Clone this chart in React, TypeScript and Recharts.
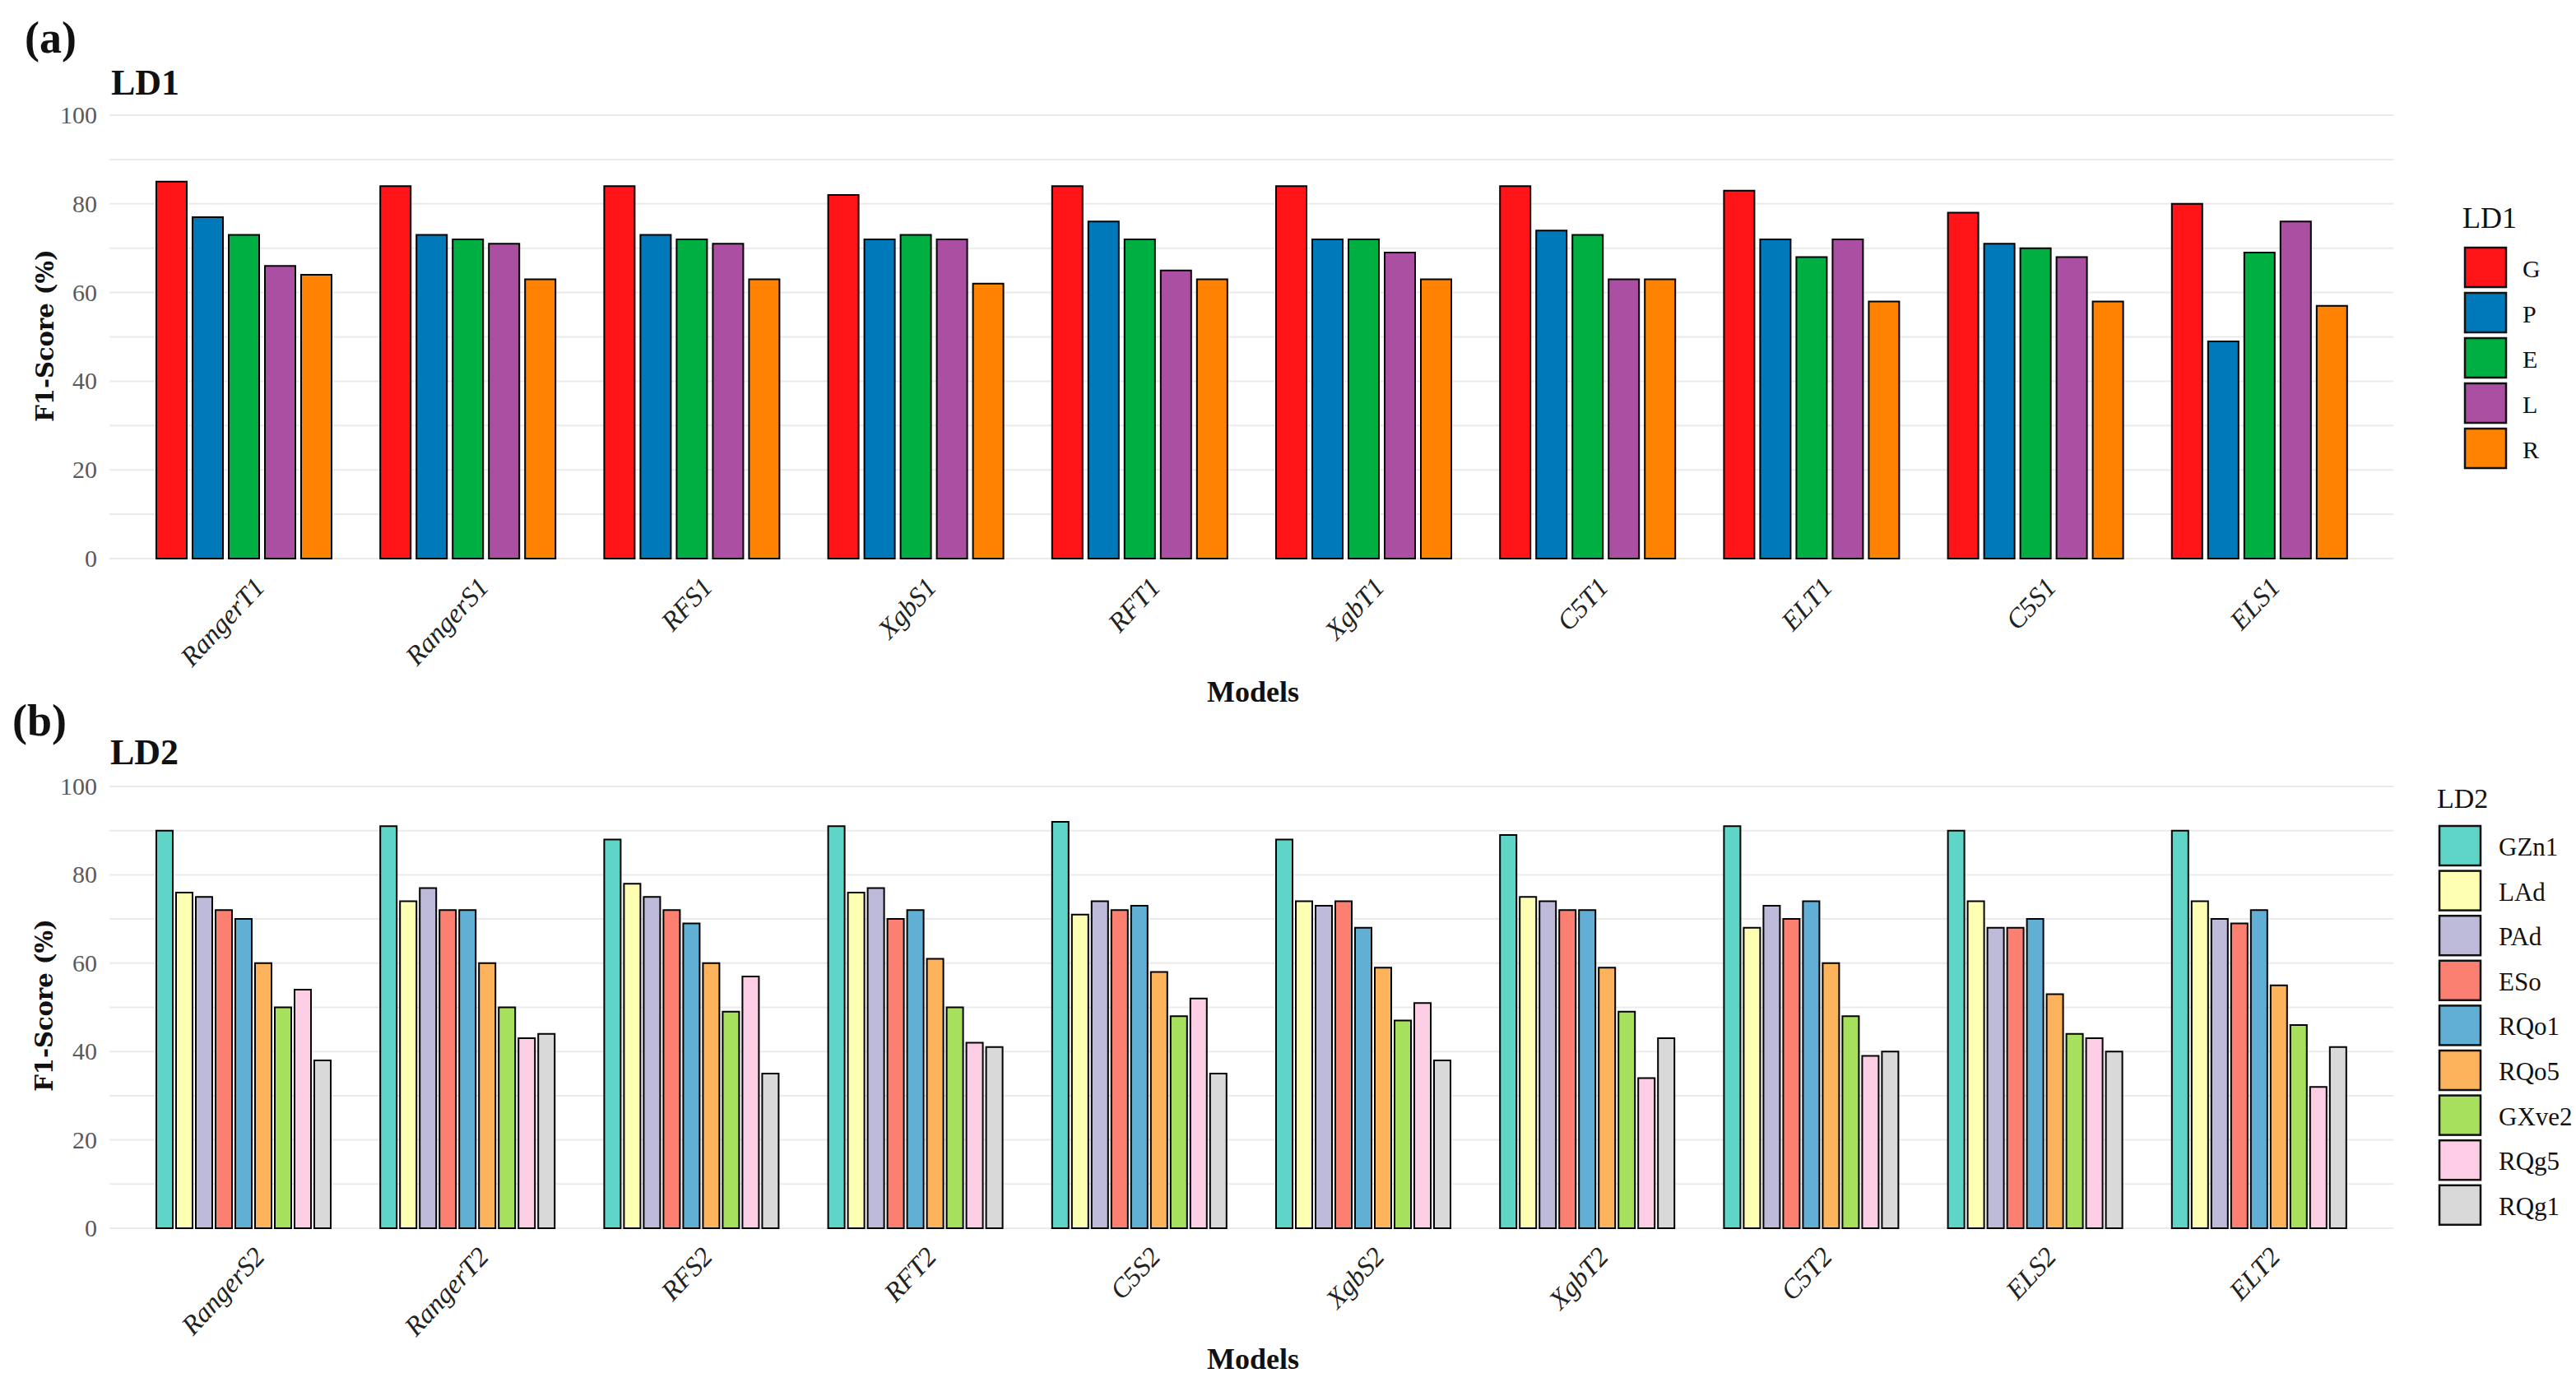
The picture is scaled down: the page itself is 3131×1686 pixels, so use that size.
import React from "react";
import { BarChart, Bar, XAxis, YAxis, CartesianGrid } from "recharts";

// LD1 panel
const LD1_MODELS = ["RangerT1", "RangerS1", "RFS1", "XgbS1", "RFT1", "XgbT1", "C5T1", "ELT1", "C5S1", "ELS1"];
const LD1_KEYS = ["G", "P", "E", "L", "R"];
const LD1_G = [85, 84, 84, 82, 84, 84, 84, 83, 78, 80];
const LD1_P = [77, 73, 73, 72, 76, 72, 74, 72, 71, 49];
const LD1_E = [73, 72, 72, 73, 72, 72, 73, 68, 70, 69];
const LD1_L = [66, 71, 71, 72, 65, 69, 63, 72, 68, 76];
const LD1_R = [64, 63, 63, 62, 63, 63, 63, 58, 58, 57];

// LD2 panel
const LD2_MODELS = ["RangerS2", "RangerT2", "RFS2", "RFT2", "C5S2", "XgbS2", "XgbT2", "C5T2", "ELS2", "ELT2"];
const LD2_KEYS = ["GZn1", "LAd", "PAd", "ESo", "RQo1", "RQo5", "GXve2", "RQg5", "RQg1"];
const LD2_GZN1 = [90, 91, 88, 91, 92, 88, 89, 91, 90, 90];
const LD2_LAD = [76, 74, 78, 76, 71, 74, 75, 68, 74, 74];
const LD2_PAD = [75, 77, 75, 77, 74, 73, 74, 73, 68, 70];
const LD2_ESO = [72, 72, 72, 70, 72, 74, 72, 70, 68, 69];
const LD2_RQO1 = [70, 72, 69, 72, 73, 68, 72, 74, 70, 72];
const LD2_RQO5 = [60, 60, 60, 61, 58, 59, 59, 60, 53, 55];
const LD2_GXVE2 = [50, 50, 49, 50, 48, 47, 49, 48, 44, 46];
const LD2_RQG5 = [54, 43, 57, 42, 52, 51, 34, 39, 43, 32];
const LD2_RQG1 = [38, 44, 35, 41, 35, 38, 43, 40, 40, 41];

// y axis
const GRID_VALUES = [0, 10, 20, 30, 40, 50, 60, 70, 80, 90, 100];
const Y_LABELS = [0, 20, 40, 60, 80, 100];

const LD1_COLORS = ["#FF1418", "#0079BA", "#00AF42", "#AB4FA3", "#FF8200"];
const LD2_COLORS = ["#5FD5C7", "#FFFFB3", "#BEBADA", "#FB8072", "#62AFD5", "#FDB25C", "#A6E05C", "#FDCDE6", "#D9D9D9"];

const SERIF = "'Liberation Serif', 'Times New Roman', serif";
const W = 3131;

function buildRows(models: string[], keys: string[], cols: number[][]) {
  return models.map((m, i) => {
    const row: any = { model: m };
    keys.forEach((k, j) => (row[k] = cols[j][i]));
    return row;
  });
}

const ld1Rows = buildRows(LD1_MODELS, LD1_KEYS, [LD1_G, LD1_P, LD1_E, LD1_L, LD1_R]);
const ld2Rows = buildRows(LD2_MODELS, LD2_KEYS, [
  LD2_GZN1, LD2_LAD, LD2_PAD, LD2_ESO, LD2_RQO1, LD2_RQO5, LD2_GXVE2, LD2_RQG5, LD2_RQG1,
]);

const ModelTick = ({ x, y, payload }: any) => (
  <g transform={`translate(${x + 10},${y + 20})`}>
    <text
      textAnchor="end"
      transform="rotate(-47)"
      dy="0.72em"
      fontFamily={SERIF}
      fontStyle="italic"
      fontSize={33}
      fill="#222"
    >
      {payload.value}
    </text>
  </g>
);

const ScoreTick = ({ x, y, payload }: any) => {
  if (!Y_LABELS.includes(payload.value)) return <g />;
  return (
    <text x={x} y={y} dy={10} textAnchor="end" fontFamily={SERIF} fontSize={30} fill="#5a5a5a">
      {payload.value}
    </text>
  );
};

function Panel({ rows, keys, colors, height, top, bottom, barGap }: any) {
  return (
    <BarChart
      width={W}
      height={height}
      data={rows}
      margin={{ top, right: 222, left: 73, bottom }}
      barCategoryGap={30}
      barGap={barGap}
    >
      <CartesianGrid vertical={false} stroke="#EBEBEB" strokeWidth={2} />
      <XAxis
        dataKey="model"
        interval={0}
        axisLine={false}
        tickLine={false}
        tickSize={0}
        tickMargin={0}
        height={150}
        padding={{ left: 27, right: 27 }}
        tick={<ModelTick />}
      />
      <YAxis
        domain={[0, 100]}
        ticks={GRID_VALUES}
        width={60}
        axisLine={false}
        tickLine={false}
        tickSize={0}
        tickMargin={15}
        tick={<ScoreTick />}
      />
      {keys.map((k: string, i: number) => (
        <Bar key={k} dataKey={k} fill={colors[i]} stroke="#000" strokeWidth={2} isAnimationActive={false} />
      ))}
    </BarChart>
  );
}

function LegendBlock({ title, keys, colors, x, titleY, keyTop, pitch, size, labelX, titleSize, labelSize }: any) {
  return (
    <g fontFamily={SERIF} fill="#111">
      <text x={x - 3} y={titleY} fontSize={titleSize}>
        {title}
      </text>
      {keys.map((k: string, i: number) => (
        <g key={k}>
          <rect
            x={x}
            y={keyTop + i * pitch}
            width={size}
            height={size - 2}
            fill={colors[i]}
            stroke="#111"
            strokeWidth={2.5}
          />
          <text x={labelX} y={keyTop + i * pitch + size / 2 + 11} fontSize={labelSize} fill="#111">
            {k}
          </text>
        </g>
      ))}
    </g>
  );
}

export default function App() {
  return (
    <div style={{ position: "absolute", left: 0, top: 0, width: W, height: 1686, background: "#fff" }}>
      <div style={{ position: "absolute", left: 0, top: 0 }}>
        <Panel rows={ld1Rows} keys={LD1_KEYS} colors={LD1_COLORS} height={870} top={140} bottom={41} barGap={7} />
      </div>
      <div style={{ position: "absolute", left: 0, top: 870 }}>
        <Panel rows={ld2Rows} keys={LD2_KEYS} colors={LD2_COLORS} height={816} top={86} bottom={43} barGap={4} />
      </div>
      <svg
        width={W}
        height={1686}
        style={{ position: "absolute", left: 0, top: 0, pointerEvents: "none" }}
      >
        <g fontFamily={SERIF} fill="#111">
          <text x={30} y={64} fontSize={54} fontWeight="bold">(a)</text>
          <text x={135} y={115} fontSize={44} fontWeight="bold">LD1</text>
          <text x={15} y={894} fontSize={54} fontWeight="bold">(b)</text>
          <text x={134} y={929} fontSize={44} fontWeight="bold">LD2</text>
          <text x={1523} y={853} fontSize={36} fontWeight="bold" textAnchor="middle">Models</text>
          <text x={1523} y={1664} fontSize={36} fontWeight="bold" textAnchor="middle">Models</text>
        </g>
        <g fontFamily="'DejaVu Serif', serif" fontWeight="bold" fontSize={29} fill="#111">
          <text x={65} y={408} textAnchor="middle" transform="rotate(-90 65 408)">F1-Score (%)</text>
          <text x={64} y={1222} textAnchor="middle" transform="rotate(-90 64 1222)">F1-Score (%)</text>
        </g>
        <LegendBlock
          title="LD1"
          keys={LD1_KEYS}
          colors={LD1_COLORS}
          x={2996}
          titleY={277}
          keyTop={301}
          pitch={55}
          size={50}
          labelX={3066}
          titleSize={36}
          labelSize={30}
        />
        <LegendBlock
          title="LD2"
          keys={LD2_KEYS}
          colors={LD2_COLORS}
          x={2965}
          titleY={982}
          keyTop={1004}
          pitch={54.6}
          size={50}
          labelX={3037}
          titleSize={34}
          labelSize={31}
        />
      </svg>
    </div>
  );
}
